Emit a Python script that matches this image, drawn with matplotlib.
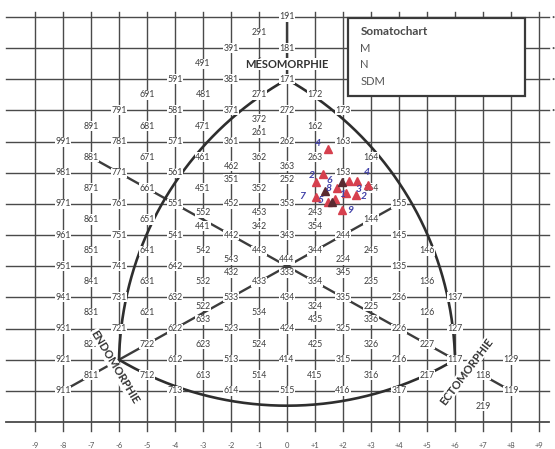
import numpy as np
import matplotlib
matplotlib.use('Agg')
import matplotlib.pyplot as plt
from matplotlib.patches import Rectangle

plt.rcParams['font.family'] = ['Lato', 'DejaVu Sans']

# somatotype codes printed on the chart (endo, meso, ecto)
codes = ['191', '291', '391', '181', '491', '591', '381', '171',
         '691', '481', '271', '172', '791', '581', '371', '272', '173',
         '891', '681', '471', '162',
         '991', '781', '571', '361', '262', '163',
         '881', '671', '461', '362', '263', '164',
         '981', '771', '561', '153',
         '871', '661', '451', '352', '154',
         '971', '761', '551', '452', '353', '155',
         '861', '651', '144',
         '961', '751', '541', '442', '343', '244', '145',
         '851', '641', '542', '443', '344', '245', '146',
         '951', '741', '642', '135',
         '841', '631', '532', '433', '334', '235', '136',
         '941', '731', '632', '533', '434', '335', '236', '137',
         '831', '621', '534', '126',
         '931', '721', '622', '523', '424', '325', '226', '127',
         '821', '722', '623', '524', '425', '326', '227',
         '921', '612', '513', '414', '315', '216', '117', '129',
         '811', '712', '613', '514', '415', '316', '217', '118',
         '911', '713', '614', '515', '416', '317', '119',
         '219']
# places where two codes share a point (upper one first)
stacked = [('372', '261'), ('462', '351'), ('363', '252'), ('552', '441'),
           ('453', '342'), ('243', '354'), ('543', '432'), ('444', '333'),
           ('234', '345'), ('522', '633'), ('324', '435'), ('225', '336')]

# reference lines of the chart, as somatotype codes
axis_lines = [('333', '881'), ('444', '155'), ('333', '117'), ('333', '711'),
              ('711', '911'), ('118', '119'), ('171', '191')]
vertices = {'meso': '171', 'endo': '711', 'ecto': '117'}

x_ticks = ['-9', '-8', '-7', '-6', '-5', '-4', '-3', '-2', '-1', '0',
           '+1', '+2', '+3', '+4', '+5', '+6', '+7', '+8', '+9']

# plotted subjects
tri_x = [1.45, 2.5, 2.9, 1.8, 1.05, 2.45, 1.45, 1.95, 1.05, 2.1, 1.3, 2.2, 1.7]
tri_y = [7.5, 5.5, 5.2, 5.0, 5.4, 4.6, 4.1, 3.6, 4.45, 4.7, 5.9, 5.45, 4.3]
dark_x = [1.95, 1.35, 1.6]
dark_y = [5.4, 4.8, 4.1]
sub_x = [1.1, 0.9, 1.5, 2.85, 0.55, 1.2, 2.25, 2.55, 2.75, 1.5, 1.95]
sub_y = [7.9, 5.85, 5.5, 6.0, 4.45, 4.25, 3.6, 4.9, 4.45, 5.0, 4.6]
sub_id = ['4', '2', '6', '4', '7', '5', '9', '3', '2', '8', '1']

legend_rows = ['M', 'N', 'SDM']

SX, SY = 28.0, 15.58   # px per unit, so arcs are round on the page
INK = '#3c3c3c'


def pos(code):
    e, m, c = (int(v) for v in code)
    return c - e, 2 * m - e - c


def arc(p1, p2, ref, R=330.0, n=200):
    a = np.array([p1[0] * SX, p1[1] * SY])
    b = np.array([p2[0] * SX, p2[1] * SY])
    r = np.array([ref[0] * SX, ref[1] * SY])
    m = (a + b) / 2
    d = np.linalg.norm(b - a) / 2
    nv = np.array([-(b - a)[1], (b - a)[0]]) / (2 * d)
    if np.dot(r - m, nv) < 0:
        nv = -nv
    c = m + np.sqrt(R ** 2 - d ** 2) * nv
    t1 = np.arctan2(*(a - c)[::-1])
    t2 = np.arctan2(*(b - c)[::-1])
    if abs(t2 - t1) > np.pi:
        t2 += 2 * np.pi if t2 < t1 else -2 * np.pi
    t = np.linspace(t1, t2, n)
    return (c[0] + R * np.cos(t)) / SX, (c[1] + R * np.sin(t)) / SY


fig = plt.figure(figsize=(5.55, 4.49), dpi=100)
ax = fig.add_axes([0, 0, 1, 1])
ax.set_xlim(-10.25, 9.57)
ax.set_ylim(-11.73, 17.09)
ax.axis('off')

# grid
for gx in range(-9, 10):
    ax.plot([gx, gx], [-10.6, 16.3], color='#4a4a4a', lw=1.0, zorder=1)
for gy in range(16, -11, -2):
    ax.plot([-10.05, 9.35], [gy, gy], color='#4a4a4a', lw=1.3 if gy == -10 else 1.0, zorder=1)

# reference lines
for c1, c2 in axis_lines:
    p, q = pos(c1), pos(c2)
    ax.plot([p[0], q[0]], [p[1], q[1]], color=INK, lw=1.7, zorder=2)

# curved outline
A, E, C = (pos(vertices[k]) for k in ('meso', 'endo', 'ecto'))
for p1, p2, ref in [(A, E, C), (A, C, E), (E, C, A)]:
    xs, ys = arc(p1, p2, ref)
    ax.plot(xs, ys, color='#2e2e2e', lw=1.9, zorder=2)

lab = dict(ha='center', va='center', fontsize=6.3, color=INK, zorder=3,
           bbox=dict(fc='white', ec='none', pad=0.4))
for code in codes:
    x, y = pos(code)
    ax.text(x, y, code, **lab)
for up, lo in stacked:
    x, y = pos(up)
    ax.text(x, y + 0.42, up, **lab)
    ax.text(x, y - 0.42, lo, **lab)

big = dict(ha='center', va='center', fontsize=8, fontweight='bold', color='#333333',
           zorder=4, bbox=dict(fc='white', ec='none', pad=0.3))
ax.text(0, 12.98, 'MÉSOMORPHIE', **big)
ax.text(-6.15, -6.45, 'ENDOMORPHIE', rotation=-59, **big)
ax.text(6.4, -6.75, 'ECTOMORPHIE', rotation=53, **big)

for i, t in enumerate(x_ticks):
    ax.text(i - 9, -11.5, t, ha='center', va='center', fontsize=5.5, color='#555555')
for gy in (16, 14, 12, 10):
    ax.text(9.5, gy, '•', ha='center', va='center', fontsize=4, color='#555555')

# subjects
ax.plot(tri_x, tri_y, ls='none', marker='^', ms=6, color='#d6404e', zorder=5)
ax.plot(dark_x, dark_y, ls='none', marker='^', ms=6, color='#5a2a30', zorder=5)
for x, y, s in zip(sub_x, sub_y, sub_id):
    ax.text(x, y, s, ha='center', va='center', fontsize=7.5, style='italic',
            fontweight='bold', color='#4040a8', zorder=6)

# legend box
ax.add_patch(Rectangle((2.18, 10.93), 6.32, 5.0, fc='white', ec='#3a3a3a', lw=1.6, zorder=7))
ax.text(2.62, 15.05, 'Somatochart', fontsize=8.5, fontweight='bold', color='#4a4a4a',
        va='center', zorder=8)
for i, t in enumerate(legend_rows):
    ax.text(2.62, 14.0 - 1.08 * i, t, fontsize=8, color='#555555', va='center', zorder=8)

fig.savefig('out.png', dpi=100, facecolor='white')
